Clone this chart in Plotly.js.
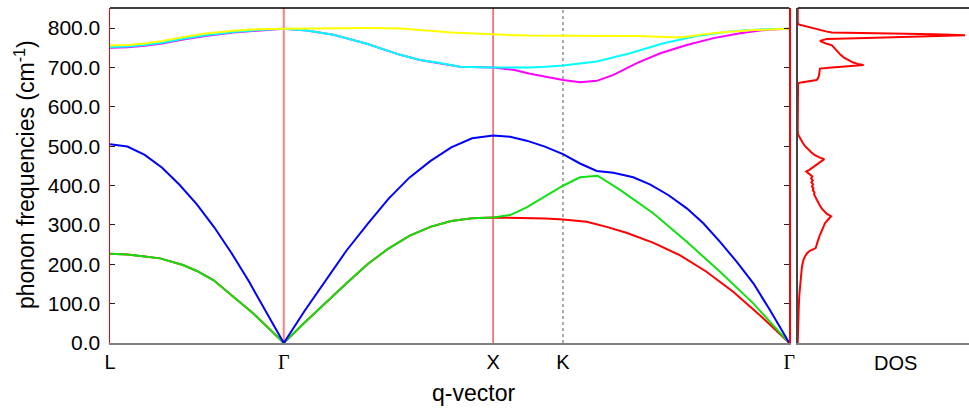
<!DOCTYPE html>
<html>
<head>
<meta charset="utf-8">
<script src="https://cdn.plot.ly/plotly-3.0.1.min.js"></script>
<style>html,body{margin:0;padding:0;background:#fff;}#chart{width:969px;height:411px;}</style>
</head>
<body>
<div id="chart"></div>
<script>
// High-symmetry points along the path (path coordinate) and their labels
const qTicks = [0, 0.830, 1.830, 2.164, 3.245];
const qLabels = ['L', '<span style="font-family:Liberation Serif">Γ</span>', 'X', 'K', '<span style="font-family:Liberation Serif">Γ</span>'];
const yTicks = [0, 100, 200, 300, 400, 500, 600, 700, 800];

// Each branch: fractional positions inside segments [L-Γ, Γ-X, X-K, K-Γ] and frequencies (cm^-1)
const t11 = [0, .1, .2, .3, .4, .5, .6, .7, .8, .9, 1];

const redT = [[0, .1, .2, .288, .42, .5, .595, .7, .825, .9, 1], t11, [0, .25, .5, .75, 1], [0, .105, .193, .28, .4, .516, .634, .752, .87, 1]];
const redF = [[227, 225, 220, 215, 198, 183, 160, 122, 75, 43, 0], [0, 52, 103, 152, 200, 240, 272, 295, 310, 317, 319], [319, 318.5, 318, 316, 314], [314, 308, 295, 280, 254.5, 223, 181, 130, 70.5, 0]];

const greenT = [[0, .1, .2, .288, .42, .5, .595, .7, .825, .9, 1], t11, [0, .243, .48, .74, 1], [0, .075, .153, .254, .4, .547, .694, .842, 1]];
const greenF = [[227, 225, 220, 215, 198, 183, 160, 122, 75, 43, 0], [0, 52, 103, 152, 200, 240, 272, 295, 310, 317, 319], [319, 325, 344.5, 371.5, 399.5], [399.5, 421, 425, 388.5, 329, 257, 181, 100, 0]];

const blueT = [t11, t11, [0, .243, .48, .74, 1], [0, .075, .149, .223, .31, .384, .465, .547, .62, .694, .768, .842, .915, 1]];
const blueF = [[505, 499, 478, 445, 402, 352, 294, 228, 156, 78, 0], [0, 82, 160, 235, 302, 366, 420, 462, 497, 520, 527], [527, 524, 514, 499, 480], [480, 456, 437, 432.5, 421, 403, 376, 342, 304, 257, 206, 151, 83, 0]];

const magentaT = [[0, .1, .2, .3, .42, .55, .71, .85, 1], [0, .11, .237, .397, .556, .651, .746, .842, 1], [0, .29, .53, 1], [0, .075, .149, .223, .326, .43, .547, .665, .782, .9, 1]];
const magentaF = [[750, 751, 755, 761, 771, 780, 789, 794, 798], [798, 794, 783, 760, 732, 719, 711, 702, 700], [700, 694, 684, 668], [668, 662.6, 666, 681, 711, 736, 757, 774.5, 787, 795.7, 798]];

const cyanT = [[0, .1, .2, .3, .42, .55, .71, .85, 1], [0, .11, .237, .397, .556, .651, .746, .842, 1], [0, .25, .5, .75, 1], [0, .149, .296, .444, .59, .737, .885, 1]];
const cyanF = [[752, 753, 757, 763, 773, 782, 790, 795, 798], [798, 794, 783, 760, 732, 719, 711, 702, 700], [700, 699.5, 700, 702, 705], [705, 715, 736, 761.5, 780, 791, 797, 798]];

const yellowT = [[0, .1, .2, .3, .42, .55, .71, .85, 1], [0, .2, .4, .56, .65, .8, 1], [0, .5, 1], [0, .179, .326, .487, .53, .62, .694, .842, 1]];
const yellowF = [[756, 757, 761, 767, 777, 786, 793, 797, 798], [798, 799.5, 800, 799, 795, 789, 784], [784, 781, 780.5], [780.5, 781, 780, 777, 777, 784, 789, 795, 798]];

// Density of states (frequency, DOS in relative units)
const dosFreq = [0, 30, 60, 90, 120, 150, 175, 195, 210, 220, 228, 234, 238, 241, 246, 250, 260, 275, 290, 305, 315, 322, 328, 335, 342, 350, 358, 365, 372, 378, 383, 388, 393, 398, 403, 408, 413, 418, 423, 428, 432, 436, 440, 447, 455, 462, 467, 471, 477, 484, 492, 500, 508, 515, 522, 530, 540,
  655, 660, 662, 665, 668, 672, 677, 681, 690, 697, 700, 703, 706, 709, 713, 718, 725, 732, 742, 750, 756, 760, 764, 767, 770, 772, 775, 779, 782, 784, 786, 787, 789, 791, 795, 800, 803, 806, 809, 815, 851];
const dosVal = [0, 0.001, 0.003, 0.006, 0.009, 0.014, 0.019, 0.025, 0.033, 0.042, 0.055, 0.07, 0.09, 0.105, 0.108, 0.112, 0.118, 0.13, 0.145, 0.16, 0.18, 0.195, 0.17, 0.152, 0.14, 0.128, 0.118, 0.11, 0.104, 0.095, 0.098, 0.088, 0.092, 0.083, 0.09, 0.08, 0.088, 0.078, 0.085, 0.072, 0.06, 0.05, 0.068, 0.09, 0.115, 0.14, 0.155, 0.13, 0.1, 0.08, 0.06, 0.043, 0.03, 0.02, 0.01, 0.002, 0,
  0, 0.002, 0.02, 0.07, 0.11, 0.118, 0.122, 0.125, 0.127, 0.13, 0.2, 0.3, 0.385, 0.35, 0.32, 0.3, 0.27, 0.25, 0.23, 0.215, 0.2, 0.17, 0.14, 0.13, 0.15, 0.17, 0.4, 0.75, 0.977, 0.8, 0.45, 0.27, 0.2, 0.17, 0.13, 0.09, 0.05, 0.02, 0.005, 0, 0];

function build(T, F) {
  const x = [], y = [];
  for (let s = 0; s < 4; s++) {
    const a = qTicks[s], b = qTicks[s + 1];
    T[s].forEach((t, i) => {
      if (s > 0 && i === 0) return;
      x.push(a + t * (b - a)); y.push(F[s][i]);
    });
  }
  return {x, y};
}

const branches = [
  [redT, redF, '#ff0000'],
  [greenT, greenF, '#11e011'],
  [blueT, blueF, '#0000ff'],
  [magentaT, magentaF, '#ff00ff'],
  [cyanT, cyanF, '#00ffff'],
  [yellowT, yellowF, '#ffff00']
];

const traces = branches.map(([T, F, c]) => {
  const d = build(T, F);
  return {x: d.x, y: d.y, type: 'scatter', mode: 'lines', line: {color: c, width: 2}, hoverinfo: 'skip', xaxis: 'x', yaxis: 'y'};
});
traces.push({x: dosVal, y: dosFreq, type: 'scatter', mode: 'lines', line: {color: '#ff0000', width: 2}, xaxis: 'x2', yaxis: 'y2', hoverinfo: 'skip'});

const F = 'Liberation Sans, Arial, sans-serif';
const layout = {
  width: 969, height: 411,
  margin: {l: 110, r: 0, t: 8, b: 68},
  paper_bgcolor: '#fff', plot_bgcolor: '#fff',
  showlegend: false,
  font: {family: F, size: 20, color: '#000'},
  xaxis: {
    domain: [0, 0.7908], range: [qTicks[0], qTicks[4]],
    tickvals: qTicks, ticktext: qLabels, ticks: '', showgrid: false, zeroline: false,
    showline: true, linecolor: '#808080', linewidth: 2,
    tickfont: {family: F, size: 20, color: '#000'}, ticklabelstandoff: 0
  },
  yaxis: {
    range: [0, 851], tickvals: yTicks, tickformat: '.1f', ticks: 'inside', ticklen: 5, tickcolor: '#222', tickwidth: 1,
    showgrid: false, zeroline: false, showline: true, linecolor: '#ff0000', linewidth: 1.5, mirror: 'ticks',
    tickfont: {family: F, size: 21, color: '#000'}, ticklabelstandoff: 4
  },
  xaxis2: {
    domain: [0.8006, 1], range: [0, 1], anchor: 'y2', showticklabels: false, ticks: '', showgrid: false, zeroline: false,
    showline: true, linecolor: '#808080', linewidth: 2
  },
  yaxis2: {
    range: [0, 851], anchor: 'x2', showticklabels: false, ticks: '', showgrid: false, zeroline: false,
    showline: true, linecolor: '#444', linewidth: 1.5
  },
  shapes: [
    {type: 'line', xref: 'x', yref: 'y domain', x0: qTicks[1], x1: qTicks[1], y0: 0, y1: 1, line: {color: 'rgba(255,0,0,0.5)', width: 2}, layer: 'below'},
    {type: 'line', xref: 'x', yref: 'y domain', x0: qTicks[2], x1: qTicks[2], y0: 0, y1: 1, line: {color: 'rgba(235,0,0,0.75)', width: 1.3}, layer: 'below'},
    {type: 'line', xref: 'x', yref: 'y domain', x0: qTicks[3], x1: qTicks[3], y0: 0, y1: 1, line: {color: '#555', width: 1, dash: 'dot'}, layer: 'below'},
    {type: 'line', xref: 'x domain', yref: 'y domain', x0: 0, x1: 1, y0: 1, y1: 1, line: {color: '#000', width: 1.5}},
    {type: 'line', xref: 'x2 domain', yref: 'y2 domain', x0: 0, x1: 1, y0: 1, y1: 1, line: {color: '#000', width: 1.5}}
  ],
  annotations: [
    {text: 'phonon frequencies (cm<sup>-1</sup>)', textangle: -90, xref: 'paper', yref: 'paper', x: -0.0990, y: 0.504, xanchor: 'center', yanchor: 'middle', showarrow: false, font: {family: F, size: 23}},
    {text: 'q-vector', xref: 'paper', yref: 'paper', x: 0.4226, y: -0.150, xanchor: 'center', yanchor: 'middle', showarrow: false, font: {family: F, size: 23}},
    {text: 'DOS', xref: 'paper', yref: 'paper', x: (895 - 110) / 859, y: -0.0605, xanchor: 'center', yanchor: 'middle', showarrow: false, font: {family: F, size: 20}}
  ]
};

Plotly.newPlot('chart', traces, layout, {staticPlot: true, displayModeBar: false});
</script>
</body>
</html>
